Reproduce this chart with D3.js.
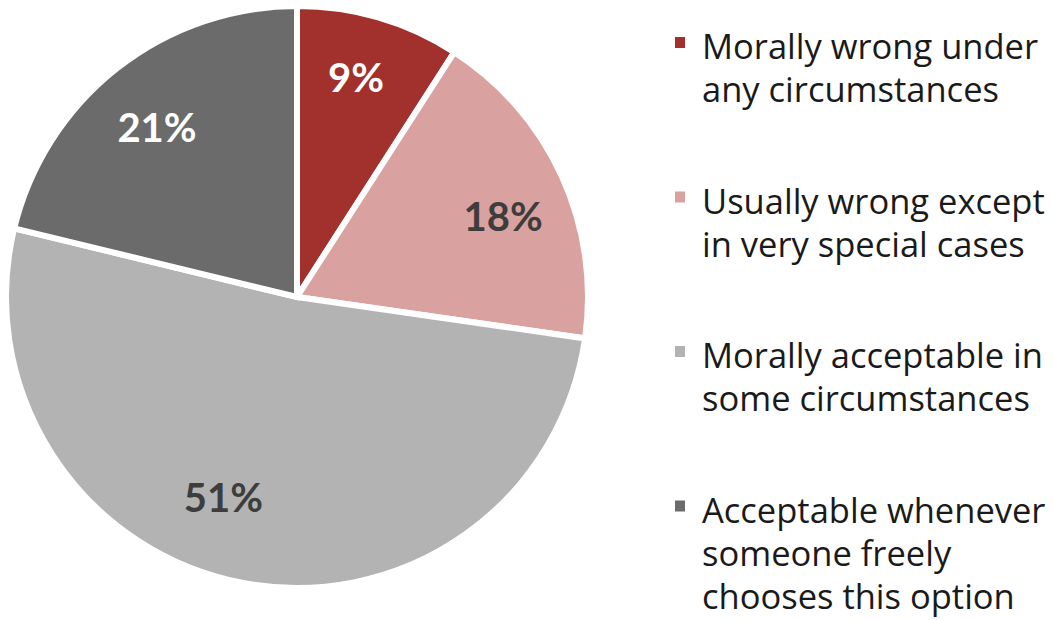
<!DOCTYPE html>
<html>
<head>
<meta charset="utf-8">
<script src="https://cdn.jsdelivr.net/npm/d3@7/dist/d3.min.js"></script>
<style>
  html, body { margin: 0; padding: 0; background: #ffffff; }
  svg { display: block; }
</style>
</head>
<body>
<svg id="chart" width="1054" height="620"></svg>
<script>
// ---- data ----
const categories = [
  "Morally wrong under\nany circumstances",
  "Usually wrong except\nin very special cases",
  "Morally acceptable in\nsome circumstances",
  "Acceptable whenever\nsomeone freely\nchooses this option"
];
const values = [9, 18, 51, 21];
const valueLabels = ["9%", "18%", "51%", "21%"];

// ---- styling / layout ----
const colors = ["#A2302D", "#D9A1A0", "#B3B3B3", "#6B6B6B"];
const labelColors = ["#ffffff", "#3d3d3d", "#3d3d3d", "#ffffff"];
const labelNudge = [[-3, -8], [6, 11], [-32, -15], [-4, 4]];
const W = 1054, H = 620;
const cx = 297, cy = 297, R = 291;

const svg = d3.select("#chart");

const pie = d3.pie().sort(null).value(d => d)
  .startAngle(0).endAngle(2 * Math.PI);
const arcs = pie(values);
const arc = d3.arc().innerRadius(0).outerRadius(R);
const labelArc = d3.arc().innerRadius(220).outerRadius(220);

const g = svg.append("g").attr("transform", `translate(${cx},${cy})`);
g.selectAll("path.slice").data(arcs).enter().append("path")
  .attr("class", "slice")
  .attr("d", arc)
  .attr("fill", (d, i) => colors[i])
  .attr("stroke", "#ffffff")
  .attr("stroke-width", 6)
  .attr("stroke-linejoin", "miter");

g.selectAll("text.lbl").data(arcs).enter().append("text")
  .attr("class", "lbl")
  .attr("x", (d, i) => labelArc.centroid(d)[0] + labelNudge[i][0])
  .attr("y", (d, i) => labelArc.centroid(d)[1] + labelNudge[i][1])
  .attr("dy", "0.36em")
  .attr("text-anchor", "middle")
  .attr("font-family", "Lato, 'Open Sans', sans-serif")
  .attr("font-weight", 700)
  .attr("font-size", 40)
  .attr("fill", (d, i) => labelColors[i])
  .text((d, i) => valueLabels[i]);

// ---- legend ----
const legendX = 675, textX = 702, firstBase = 59, itemStep = 154.5, lineH = 43;
const legend = svg.append("g");
categories.forEach((c, i) => {
  const base = firstBase + i * itemStep;
  legend.append("rect")
    .attr("x", legendX).attr("y", base - 22)
    .attr("width", 10).attr("height", 11)
    .attr("fill", colors[i]);
  const t = legend.append("text")
    .attr("font-family", "'Open Sans', Lato, sans-serif")
    .attr("font-size", 34.5)
    .attr("fill", "#1a1a1a");
  c.split("\n").forEach((line, j) => {
    t.append("tspan").attr("x", textX).attr("y", base + j * lineH).text(line);
  });
});
</script>
</body>
</html>
